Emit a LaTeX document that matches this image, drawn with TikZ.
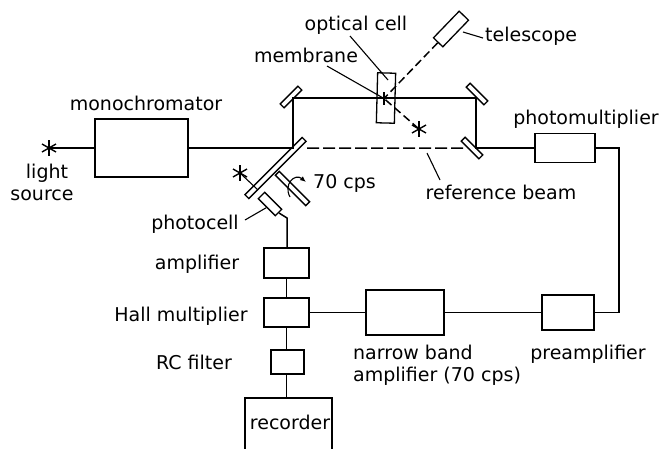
\documentclass[tikz,border=0pt]{standalone}
\usepackage{fontspec}
\setmainfont{DejaVu Sans}
\usetikzlibrary{arrows.meta}
\tikzset{box/.style = {draw, rectangle, line width = 1.6, inner sep = 0}}
\tikzset{mirror/.style = {draw, rectangle, line width = 1.3, inner sep = 0, minimum height = 5.5}}
\tikzset{lbl/.style = {anchor = base, inner sep = 0, font = \fontsize{19}{22}\selectfont}}
\tikzset{lblw/.style = {lbl, anchor = base west}}
\tikzset{beam/.style = {line width = 1.5}}
\tikzset{dbeam/.style = {line width = 1.5, dash pattern = on 12 off 4}}
\tikzset{lead/.style = {line width = 1.1}}
\tikzset{lamp/.pic = {
        \draw [line width = 1.4] (0,-8)--(0,8);
        \draw [line width = 1.4] (-7,-4)--(7,4);
        \draw [line width = 1.4] (-7,4)--(7,-4);
    }}

\begin{document}
\begin{tikzpicture}[x=1pt,y=-1pt]
        \useasboundingbox (0,0) rectangle (662,448);
        % boxes
        \node [box,minimum width=93,minimum height=58] (mono) at (141.5,148) {};
        \node [box,minimum width=60,minimum height=29] (pmt) at (565,148) {};
        \node [box,minimum width=45,minimum height=30] (amp) at (286.5,263) {};
        \node [box,minimum width=45,minimum height=29] (hall) at (286.5,312.5) {};
        \node [box,minimum width=33,minimum height=24] (rc) at (287.5,362) {};
        \node [box,minimum width=87,minimum height=56] (rec) at (288.5,426) {};
        \node [box,minimum width=78,minimum height=45] (nb) at (405,312.5) {};
        \node [box,minimum width=52,minimum height=35] (pre) at (568,312.5) {};
        % optics
        \node [box,minimum width=18,minimum height=50,rotate=-1.5,line width=1.3] (cell) at (386,98) {};
        \node [fill,inner sep=0,minimum width=2.5,minimum height=13] (memb) at (384,98.5) {};
        \node [box,minimum width=13,minimum height=37,rotate=-44,line width=1.3] (tele) at (451,29) {};
        \node [mirror,minimum width=25,rotate=45] (mtl) at (291,97) {};
        \node [mirror,minimum width=25,rotate=-45] (mtr) at (477,94) {};
        \node [mirror,minimum width=25,rotate=-45] (mbr) at (472,148) {};
        \node [mirror,minimum width=81,rotate=45] (split) at (275.5,168) {};
        \node [mirror,minimum width=43,rotate=-45] (chop) at (292.5,188.5) {};
        \node [box,minimum width=24,minimum height=9,rotate=-45,line width=1.3] (cellp) at (270,204) {};
        % sources
        \coordinate (lsrc) at (49,148);
        \coordinate (star) at (419,129);
        \coordinate (sstar) at (240,173);
        \coordinate (shit) at (258,190);
        \pic at (lsrc) {lamp};
        \pic at (star) {lamp};
        \pic at (sstar) {lamp};
        % beams
        \coordinate (bsa) at (293,148);
        \coordinate (tl) at (293,98);
        \coordinate (tr) at (476,98);
        \coordinate (br) at (476,148);
        \coordinate (bend) at (619,148);
        \coordinate (knee) at (287,218);
        \coordinate (dstart) at (307,148);
        \coordinate (bend2) at (619,312.5);
        \draw [beam] (lsrc)--(mono.west);
        \draw [beam] (mono.east)--(bsa)--(tl)--(tr)--(br)--(pmt.west);
        \draw [dbeam] (dstart)--(mbr);
        \draw [beam] (pmt.east)--(bend)--(bend2)--(pre.east);
        \draw [beam] (pre.west)--(nb.east);
        \draw [beam] (nb.west)--(hall.east);
        \draw [beam] (cellp.east)--(knee)--(knee |- amp.north);
        \draw [beam] (amp.south)--(hall.north);
        \draw [beam] (hall.south)--(hall.south |- rc.north);
        \draw [beam] (hall.south |- rc.south)--(hall.south |- rec.north);
        \draw [beam,line width=1.1] (sstar)--(shit);
        \draw [dbeam,dash pattern=on 8 off 4] (tele)--(memb);
        \draw [dbeam,dash pattern=on 8 off 4] (memb)--(star);
        % rotation arrow
        \draw [line width=1.1,-{Latex[length=6,width=5]}] (290,197) .. controls (283,184) and (295,173) .. (306,182);
        % leaders
        \coordinate (lcell) at (350,36);
        \coordinate (ecell) at (388,80);
        \coordinate (lmemb) at (327,66);
        \coordinate (ltele) at (483,38);
        \coordinate (etele) at (463,32);
        \coordinate (lref) at (440,180);
        \coordinate (eref) at (427,153);
        \coordinate (lphoto) at (245,220);
        \draw [lead] (lcell)--(ecell);
        \draw [lead] (lmemb)--(memb);
        \draw [lead] (ltele)--(etele);
        \draw [lead] (lref)--(eref);
        \draw [lead] (lphoto)--(cellp.south);
        % labels
        \node [lbl] (tmono) at (146,110) {monochromator};
        \node [lbl] (tlight) at (47,178) {light};
        \node [lbl] (tsource) at (42,200) {source};
        \node [lbl] (tcell) at (356,30) {optical cell};
        \node [lbl] (tmemb) at (306,62) {membrane};
        \node [lblw] (ttele) at (485,41) {telescope};
        \node [lbl] (tpmt) at (586,124) {photomultiplier};
        \node [lblw] (tcps) at (313,188) {70 cps};
        \node [lbl] (tref) at (501,199) {reference beam};
        \node [lbl] (tphoto) at (195,229) {photocell};
        \node [lbl] (tamp) at (197,269) {amplifier};
        \node [lbl] (thall) at (181,321) {Hall multiplier};
        \node [lbl] (trc) at (194,369) {RC filter};
        \node [lbl] (trec) at (290,429) {recorder};
        \node [lblw] (tnb) at (353,359) {narrow band};
        \node [lblw] (tnb2) at (353,381) {amplifier (70 cps)};
        \node [lbl] (tpre) at (588,359) {preamplifier};
    \end{tikzpicture}
\end{document}
